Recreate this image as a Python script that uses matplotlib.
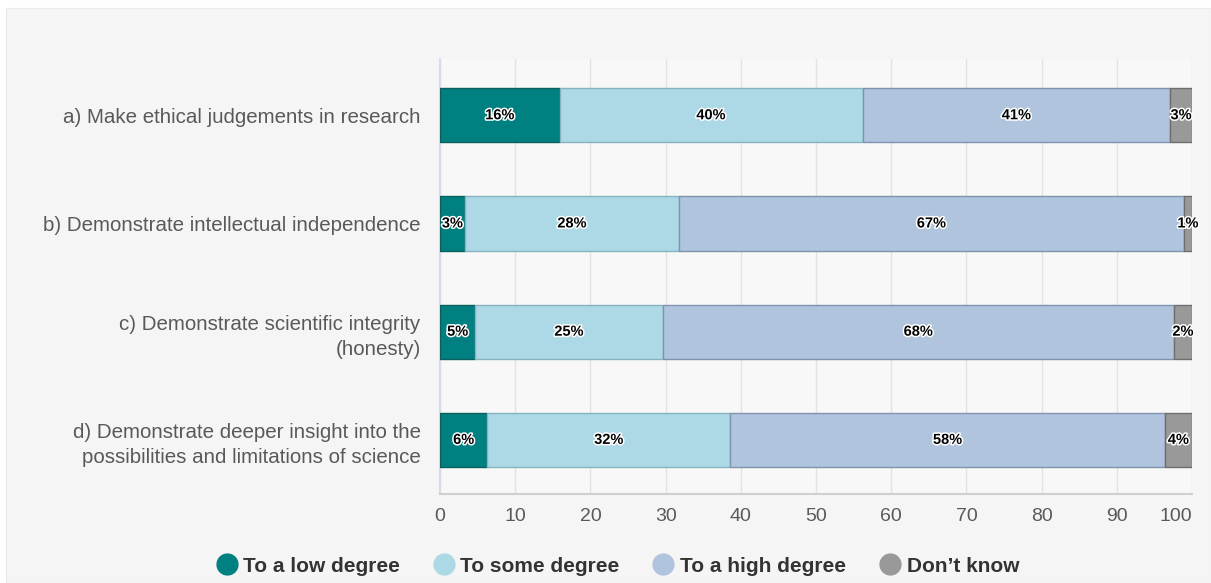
import numpy as np
import matplotlib.pyplot as plt
from matplotlib.patches import Rectangle
from matplotlib.lines import Line2D
import matplotlib.patheffects as pe

plt.rcParams['font.family'] = ['Liberation Sans', 'DejaVu Sans']

# data (percent)
categories = ['a) Make ethical judgements in research',
              'b) Demonstrate intellectual independence',
              'c) Demonstrate scientific integrity\n(honesty)',
              'd) Demonstrate deeper insight into the\npossibilities and limitations of science']
low = [15.9, 3.3, 4.7, 6.3]
some = [40.3, 28.5, 24.9, 32.3]
high = [40.9, 67.1, 68.0, 57.8]
dont = [2.9, 1.1, 2.4, 3.6]
low_lbl = ['16%', '3%', '5%', '6%']
some_lbl = ['40%', '28%', '25%', '32%']
high_lbl = ['41%', '67%', '68%', '58%']
dont_lbl = ['3%', '1%', '2%', '4%']
series_names = ['To a low degree', 'To some degree', 'To a high degree', 'Don\u2019t know']

colors = ['#008080', '#add8e6', '#b0c4de', '#999999']
edges = ['#0a5f5f', '#86b3c2', '#7f93b0', '#6e6e6e']

W, H = 1211, 583
fig = plt.figure(figsize=(W / 100, H / 100), dpi=100)
fig.patch.set_facecolor('white')
# light panel behind everything
fig.patches.append(Rectangle((6 / W, 0), 1 - 6 / W, 1 - 8 / H, transform=fig.transFigure,
                             facecolor='#f5f5f5', edgecolor='#ebebeb', lw=0.8, zorder=-10))

ax = fig.add_axes([440 / W, 1 - 494 / H, (1192 - 440) / W, (494 - 59) / H])
ax.set_facecolor('#f8f8f8')

y = np.arange(len(categories))
left = np.zeros(len(categories))
all_vals = [low, some, high, dont]
all_lbls = [low_lbl, some_lbl, high_lbl, dont_lbl]
for vals, lbls, c, ec in zip(all_vals, all_lbls, colors, edges):
    vals = np.array(vals)
    ax.barh(y, vals, left=left, height=0.5, color=c, edgecolor=ec, linewidth=1.0, zorder=3)
    for yi, l, v, t in zip(y, left, vals, lbls):
        ax.text(l + v / 2, yi, t, ha='center', va='center', fontsize=10.5, fontweight='bold',
                color='black', zorder=5,
                path_effects=[pe.withStroke(linewidth=2.2, foreground='white')])
    left = left + vals

ax.set_xlim(0, 100)
ax.set_ylim(3.5, -0.52)
ax.set_xticks(np.arange(0, 101, 10))
ax.set_yticks(y)
ax.set_yticklabels(categories, linespacing=1.42)
ax.tick_params(axis='y', length=0, pad=14, labelsize=14.8, labelcolor='#595959')
ax.tick_params(axis='x', length=0, pad=10, labelsize=14, labelcolor='#595959')
ax.get_xticklabels()[-1].set_horizontalalignment('right')
ax.grid(axis='x', color='#e3e3e3', linewidth=1.0, zorder=0)
for s in ['top', 'right']:
    ax.spines[s].set_visible(False)
ax.spines['left'].set_color('#d5dbe8')
ax.spines['left'].set_linewidth(1.5)
ax.spines['bottom'].set_color('#d0d0d0')
ax.spines['bottom'].set_linewidth(1.5)

handles = [Line2D([], [], marker='o', linestyle='none', markersize=15,
                  markerfacecolor=c, markeredgecolor=c) for c in colors]
fig.legend(handles, series_names, loc='center', bbox_to_anchor=(615 / W, 1 - 566 / H),
           ncol=4, frameon=False, handlelength=1.5, handletextpad=0.05, columnspacing=1.35,
           prop={'size': 15, 'weight': 'bold'}, labelcolor='#333333')

fig.savefig('out.png', dpi=100)
